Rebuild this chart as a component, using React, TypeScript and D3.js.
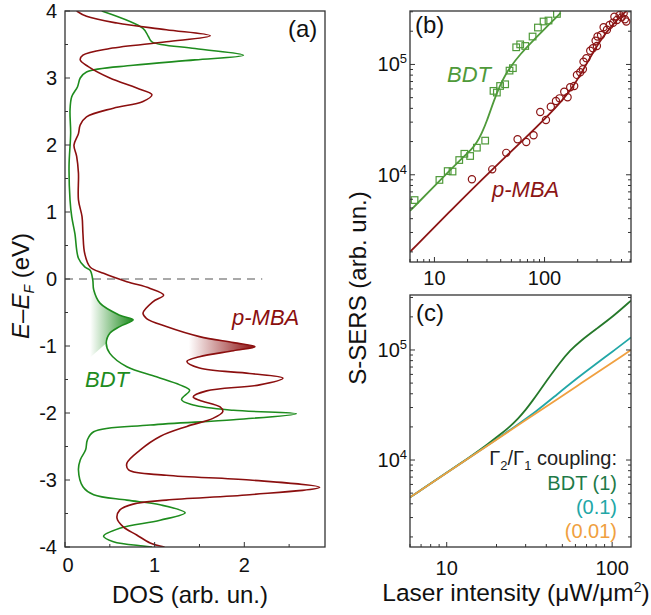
import React from 'react';
import * as d3 from 'd3';

// ---------- Panel (a): DOS ----------
const bdtEnergy = [4.0, 3.74, 3.62, 3.54, 3.44, 3.34, 3.27, 3.19, 3.09, 3.0, 2.87, 2.72, 2.52, 2.18, 1.68, 1.18, 0.93, 0.68, 0.31, 0.18, 0.13, -0.015, -0.16, -0.36, -0.54, -0.61, -0.71, -0.81, -0.96, -1.11, -1.31, -1.46, -1.58, -1.66, -1.8, -1.88, -1.96, -2.01, -2.1, -2.18, -2.28, -2.4, -2.55, -2.7, -2.85, -3.1, -3.22, -3.3, -3.37, -3.49, -3.6, -3.72, -3.84, -3.92, -3.985, -4.0];
const bdtDos = [0.41, 0.87, 0.93, 0.97, 1.45, 1.99, 1.45, 0.76, 0.24, 0.17, 0.14, 0.075, 0.056, 0.063, 0.045, 0.056, 0.075, 0.11, 0.15, 0.22, 0.28, 0.31, 0.32, 0.39, 0.61, 0.76, 0.61, 0.5, 0.46, 0.5, 0.69, 1.02, 1.28, 1.39, 1.3, 1.43, 1.88, 2.58, 1.88, 0.95, 0.32, 0.25, 0.23, 0.17, 0.15, 0.2, 0.32, 0.69, 1.06, 1.34, 1.06, 0.61, 0.43, 0.54, 0.87, 0.97];

const mbaEnergy = [4.0, 3.92, 3.82, 3.72, 3.63, 3.54, 3.44, 3.34, 3.27, 3.17, 3.0, 2.85, 2.75, 2.65, 2.55, 2.42, 2.3, 2.17, 2.0, 1.83, 1.58, 1.18, 0.93, 0.68, 0.38, 0.18, 0.085, -0.04, -0.14, -0.24, -0.34, -0.51, -0.59, -0.71, -0.86, -0.95, -1.01, -1.07, -1.16, -1.23, -1.33, -1.41, -1.48, -1.58, -1.67, -1.76, -1.81, -1.91, -1.98, -2.08, -2.2, -2.35, -2.55, -2.75, -2.85, -2.93, -3.0, -3.11, -3.22, -3.3, -3.36, -3.45, -3.57, -3.7, -3.82, -3.94, -4.0];
const mbaDos = [0.13, 0.24, 0.58, 1.13, 1.62, 1.13, 0.5, 0.2, 0.17, 0.26, 0.5, 0.8, 0.97, 0.87, 0.54, 0.24, 0.17, 0.15, 0.1, 0.13, 0.15, 0.15, 0.19, 0.2, 0.22, 0.28, 0.43, 0.69, 0.95, 1.1, 0.98, 0.87, 0.91, 1.13, 1.5, 1.88, 2.12, 1.88, 1.5, 1.36, 1.5, 2.06, 2.43, 2.17, 1.58, 1.43, 1.5, 1.73, 1.76, 1.65, 1.36, 1.06, 0.84, 0.69, 0.71, 1.13, 2.06, 2.84, 2.06, 1.13, 0.76, 0.61, 0.58, 0.65, 0.8, 0.95, 1.11];

const aYTicks = [-4, -3, -2, -1, 0, 1, 2, 3, 4];
const aXTicks = [0, 1, 2];

// ---------- Panel (b): measured S-SERS ----------
const bdtI = [6.6, 11.1, 13.2, 14.6, 16.8, 18.7, 21.1, 24.3, 28.9, 34.4, 36.9, 39.5, 43.9, 48.1, 51.6, 55.3, 60.1, 66.8, 77.9, 87.1, 98, 108.7, 129.6];
const bdtS = [5.9e3, 8.98e3, 1.08e4, 1.07e4, 1.36e4, 1.55e4, 1.48e4, 1.76e4, 2.04e4, 5.76e4, 5.56e4, 6.38e4, 6.61e4, 8.79e4, 9.25e4, 1.43e5, 1.52e5, 1.47e5, 1.79e5, 2.16e5, 2.45e5, 2.5e5, 2.87e5];
const mbaI = [21.9, 33.5, 44.9, 56.9, 68.2, 79.5, 91.4, 103, 114, 127, 137, 151, 162, 171, 186, 197, 211, 223, 226, 240, 260, 275, 291, 299, 303, 326, 344, 369, 390, 419, 431, 455, 481, 501, 523, 537, 553];
const mbaS = [9.1e3, 1.12e4, 1.58e4, 2.1e4, 1.98e4, 2.28e4, 3.71e4, 3.14e4, 4.14e4, 4.67e4, 4.93e4, 5.66e4, 5.04e4, 6.21e4, 6.38e4, 8.04e4, 8.49e4, 9.04e4, 1.06e5, 1.14e5, 1.33e5, 1.4e5, 1.64e5, 1.47e5, 1.79e5, 1.85e5, 2.17e5, 2.06e5, 2.28e5, 2.39e5, 2.71e5, 2.53e5, 2.81e5, 2.67e5, 2.91e5, 2.57e5, 2.45e5];
const bdtFitI = [6.0, 12.1, 18.4, 21.5, 24.3, 27, 29.9, 34.4, 39.5, 44, 48.7, 60.1, 79.4, 98, 140];
const bdtFitS = [4.7e3, 9.6e3, 1.46e4, 1.68e4, 1.95e4, 2.4e4, 3.05e4, 4.6e4, 6.5e4, 8.0e4, 9.4e4, 1.24e5, 1.66e5, 2.05e5, 2.93e5];
const mbaFitI = [6.0, 14.4, 33.2, 69.2, 130, 184, 243, 321, 424, 561];
const mbaFitS = [2.0e3, 4.87e3, 1.11e4, 2.22e4, 4.14e4, 6.3e4, 1.03e5, 1.67e5, 2.36e5, 3.1e5];

// ---------- Panel (c): model ----------
const modelGreenI = [6, 13, 18, 21, 24, 27, 30, 33, 36, 40, 48, 56, 64, 80, 101, 130];
const modelGreenS = [4.58e3, 9.95e3, 1.42e4, 1.7e4, 2.0e4, 2.38e4, 2.85e4, 3.45e4, 4.15e4, 5.2e4, 7.6e4, 1.0e5, 1.2e5, 1.55e5, 2.01e5, 2.81e5];
const modelTealI = [6, 13, 20, 26, 35, 46, 61, 80, 100, 130];
const modelTealS = [4.58e3, 9.95e3, 1.54e4, 2.03e4, 2.78e4, 3.9e4, 5.5e4, 7.5e4, 9.6e4, 1.3e5];
const modelOrangeI = [6, 13, 30, 60, 130];
const modelOrangeS = [4.58e3, 9.95e3, 2.3e4, 4.6e4, 1.0e5];

const logXLabels = [10, 100];
const logYLabels = [4, 5];

const FONT = "'Liberation Sans', Arial, Helvetica, sans-serif";
const AXIS = '#333';

function logMinor(domain: number[]) {
  const out: { v: number; major: boolean }[] = [];
  const lo = Math.floor(Math.log10(domain[0]));
  const hi = Math.ceil(Math.log10(domain[1]));
  for (let k = lo; k <= hi; k++) {
    for (let m = 1; m <= 9; m++) {
      const v = m * Math.pow(10, k);
      if (v >= domain[0] && v <= domain[1]) out.push({ v, major: m === 1 });
    }
  }
  return out;
}

export default function App() {
  const W = 651, H = 615;
  const A = { l: 65, r: 325, t: 11, b: 547 };
  const B = { l: 410, r: 631, t: 11, b: 262 };
  const C = { l: 410, r: 631, t: 295, b: 547 };

  const xA = d3.scaleLinear().domain([0, 2.9]).range([A.l, A.r]);
  const yA = d3.scaleLinear().domain([-4, 4]).range([A.b, A.t]);
  const xB = d3.scaleLog().domain([6, 610]).range([B.l, B.r]);
  const yB = d3.scaleLog().domain([1.62e3, 3.05e5]).range([B.b, B.t]);
  const xC = d3.scaleLog().domain([6, 130]).range([C.l, C.r]);
  const yC = d3.scaleLog().domain([1.62e3, 3.16e5]).range([C.b, C.t]);

  const bdtPts = bdtEnergy.map((e, i) => ({ e, d: bdtDos[i] }));
  const mbaPts = mbaEnergy.map((e, i) => ({ e, d: mbaDos[i] }));
  const dosLine = d3.line<{ e: number; d: number }>().x(p => xA(p.d)).y(p => yA(p.e)).curve(d3.curveCatmullRom.alpha(0.5));

  // gradient fills
  const gSub = bdtPts.filter(p => p.e <= -0.15 && p.e >= -0.97);
  const gPath = (dosLine(gSub) || '') + `L${xA(0.28)},${yA(-1.17)}L${xA(0.28)},${yA(-0.2)}Z`;
  const rSub = mbaPts.filter(p => p.e <= -0.85 && p.e >= -1.17);
  const rPath = (dosLine(rSub) || '') + `L${xA(1.38)},${yA(-1.16)}L${xA(1.38)},${yA(-0.86)}Z`;

  const mk = (I: number[], S: number[]) => I.map((v, i) => ({ x: v, y: S[i] }));
  const lineB = d3.line<{ x: number; y: number }>().x(p => xB(p.x)).y(p => yB(p.y)).curve(d3.curveBasis);
  const lineC = d3.line<{ x: number; y: number }>().x(p => xC(p.x)).y(p => yC(p.y)).curve(d3.curveBasis);

  const tickLen = 5, minorLen = 3;

  const logAxes = (P: typeof B, xs: any, ys: any, key: string, labelY: number) => {
    const xt = logMinor(xs.domain());
    const yt = logMinor(ys.domain());
    return (
      <g key={key}>
        {xt.map((t, i) => (
          <line key={'x' + i} x1={xs(t.v)} x2={xs(t.v)} y1={P.b} y2={P.b - (t.major ? tickLen : minorLen)} stroke={AXIS} strokeWidth={1} />
        ))}
        {yt.map((t, i) => (
          <g key={'y' + i}>
            <line x1={P.l} x2={P.l + (t.major ? tickLen : minorLen)} y1={ys(t.v)} y2={ys(t.v)} stroke={AXIS} strokeWidth={1} />
            <line x1={P.r} x2={P.r - (t.major ? tickLen : minorLen)} y1={ys(t.v)} y2={ys(t.v)} stroke={AXIS} strokeWidth={1} />
          </g>
        ))}
        {logXLabels.map(v => (
          <text key={'xl' + v} x={xs(v)} y={labelY} textAnchor="middle" fontSize={20} fill="#111">{v}</text>
        ))}
        {logYLabels.map(k => (
          <text key={'yl' + k} x={P.l - 3} y={ys(Math.pow(10, k)) + 7} textAnchor="end" fontSize={20} fill="#111">
            10<tspan dy={-8} fontSize={13}>{k}</tspan>
          </text>
        ))}
        <rect x={P.l} y={P.t} width={P.r - P.l} height={P.b - P.t} fill="none" stroke={AXIS} strokeWidth={1.3} />
      </g>
    );
  };

  const aGreen = '#1e8c1e', aRed = '#8b0f0f';
  const bGreen = '#4f9a3a', bRed = '#8c1515';

  return (
    <svg width={W} height={H} style={{ position: 'absolute', left: 0, top: 0, background: '#fff' }} fontFamily={FONT}>
      <defs>
        <clipPath id="clipA"><rect x={A.l} y={A.t} width={A.r - A.l} height={A.b - A.t} /></clipPath>
        <clipPath id="clipB"><rect x={B.l} y={B.t} width={B.r - B.l} height={B.b - B.t} /></clipPath>
        <clipPath id="clipC"><rect x={C.l} y={C.t} width={C.r - C.l} height={C.b - C.t} /></clipPath>
        <linearGradient id="gGrad" gradientUnits="userSpaceOnUse" x1={xA(0.28)} x2={xA(0.76)} y1={0} y2={0}>
          <stop offset="0" stopColor={aGreen} stopOpacity={0} />
          <stop offset="1" stopColor={aGreen} stopOpacity={1} />
        </linearGradient>
        <linearGradient id="rGrad" gradientUnits="userSpaceOnUse" x1={xA(1.38)} x2={xA(2.12)} y1={0} y2={0}>
          <stop offset="0" stopColor={aRed} stopOpacity={0} />
          <stop offset="1" stopColor={aRed} stopOpacity={1} />
        </linearGradient>
      </defs>

      {/* ---------- Panel (a) ---------- */}
      <line x1={xA(0)} x2={xA(2.2)} y1={yA(0)} y2={yA(0)} stroke="#555" strokeWidth={1.2} strokeDasharray="8,6" />
      <g clipPath="url(#clipA)">
        <path d={gPath} fill="url(#gGrad)" stroke="none" />
        <path d={rPath} fill="url(#rGrad)" stroke="none" />
        <path d={dosLine(bdtPts) || ''} fill="none" stroke={aGreen} strokeWidth={1.6} />
        <path d={dosLine(mbaPts) || ''} fill="none" stroke={aRed} strokeWidth={1.6} />
      </g>
      {aYTicks.map(v => (
        <g key={'ay' + v}>
          <line x1={A.l} x2={A.l + tickLen} y1={yA(v)} y2={yA(v)} stroke={AXIS} />
          {v < 4 && <line x1={A.l} x2={A.l + minorLen} y1={yA(v + 0.5)} y2={yA(v + 0.5)} stroke={AXIS} />}
          <text x={57} y={yA(v) + 7} textAnchor="end" fontSize={20} fill="#111">{v}</text>
        </g>
      ))}
      {aXTicks.map(v => (
        <g key={'ax' + v}>
          <line x1={xA(v)} x2={xA(v)} y1={A.b} y2={A.b - tickLen} stroke={AXIS} />
          <line x1={xA(v + 0.5)} x2={xA(v + 0.5)} y1={A.b} y2={A.b - minorLen} stroke={AXIS} />
          <text x={xA(v) + (v === 0 ? 3 : 0)} y={572} textAnchor="middle" fontSize={20} fill="#111">{v}</text>
        </g>
      ))}
      <rect x={A.l} y={A.t} width={A.r - A.l} height={A.b - A.t} fill="none" stroke={AXIS} strokeWidth={1.3} />
      <text x={288} y={37} fontSize={24} fill="#111">(a)</text>
      <text x={232} y={325} fontSize={22} fontStyle="italic" fill={aRed}>p-MBA</text>
      <text x={85} y={387} fontSize={22} fontStyle="italic" fill={aGreen}>BDT</text>
      <text x={190} y={603} textAnchor="middle" fontSize={24} fill="#111">DOS (arb. un.)</text>
      <text transform="translate(29,286) rotate(-90)" textAnchor="middle" fontSize={24} fill="#111">
        <tspan fontStyle="italic">E</tspan>–<tspan fontStyle="italic">E</tspan>
        <tspan fontStyle="italic" fontSize={14} dy={5}>F</tspan>
        <tspan dy={-5}> (eV)</tspan>
      </text>

      {/* ---------- Panel (b) ---------- */}
      <g clipPath="url(#clipB)">
        <path d={lineB(mk(bdtFitI, bdtFitS)) || ''} fill="none" stroke={bGreen} strokeWidth={1.8} />
        <path d={lineB(mk(mbaFitI, mbaFitS)) || ''} fill="none" stroke={bRed} strokeWidth={1.8} />
        {bdtI.map((v, i) => (
          <rect key={'sq' + i} x={xB(v) - 3.3} y={yB(bdtS[i]) - 3.3} width={6.6} height={6.6} fill="none" stroke={bGreen} strokeWidth={1.2} />
        ))}
        {mbaI.map((v, i) => (
          <circle key={'ci' + i} cx={xB(v)} cy={yB(mbaS[i])} r={3.6} fill="none" stroke={bRed} strokeWidth={1.2} />
        ))}
      </g>
      {logAxes(B, xB, yB, 'axB', 285)}
      <text x={415} y={33} fontSize={24} fill="#111">(b)</text>
      <text x={447} y={82} fontSize={22} fontStyle="italic" fill={bGreen}>BDT</text>
      <text x={492} y={197} fontSize={22} fontStyle="italic" fill={bRed}>p-MBA</text>

      {/* ---------- Panel (c) ---------- */}
      <g clipPath="url(#clipC)">
        <path d={lineC(mk(modelGreenI, modelGreenS)) || ''} fill="none" stroke="#25782a" strokeWidth={1.8} />
        <path d={lineC(mk(modelTealI, modelTealS)) || ''} fill="none" stroke="#22a7a7" strokeWidth={1.8} />
        <path d={lineC(mk(modelOrangeI, modelOrangeS)) || ''} fill="none" stroke="#f0a040" strokeWidth={1.8} />
      </g>
      {logAxes(C, xC, yC, 'axC', 575)}
      <text x={416} y={321} fontSize={24} fill="#111">(c)</text>
      <text x={617} y={465} textAnchor="end" fontSize={20} fill="#222">
        Γ<tspan dy={5} fontSize={13}>2</tspan><tspan dy={-5}>/Γ</tspan><tspan dy={5} fontSize={13}>1</tspan><tspan dy={-5}> coupling:</tspan>
      </text>
      <text x={617} y={490} textAnchor="end" fontSize={20} fill="#1f7a48">BDT (1)</text>
      <text x={617} y={514} textAnchor="end" fontSize={20} fill="#22a7a7">(0.1)</text>
      <text x={617} y={538} textAnchor="end" fontSize={20} fill="#f0a040">(0.01)</text>
      <text x={516} y={601} textAnchor="middle" fontSize={24.5} fill="#111">Laser intensity (μW/μm<tspan dy={-9} fontSize={14}>2</tspan><tspan dy={9}>)</tspan></text>

      <text transform="translate(366,288) rotate(-90)" textAnchor="middle" fontSize={24} fill="#111">S-SERS (arb. un.)</text>
    </svg>
  );
}
